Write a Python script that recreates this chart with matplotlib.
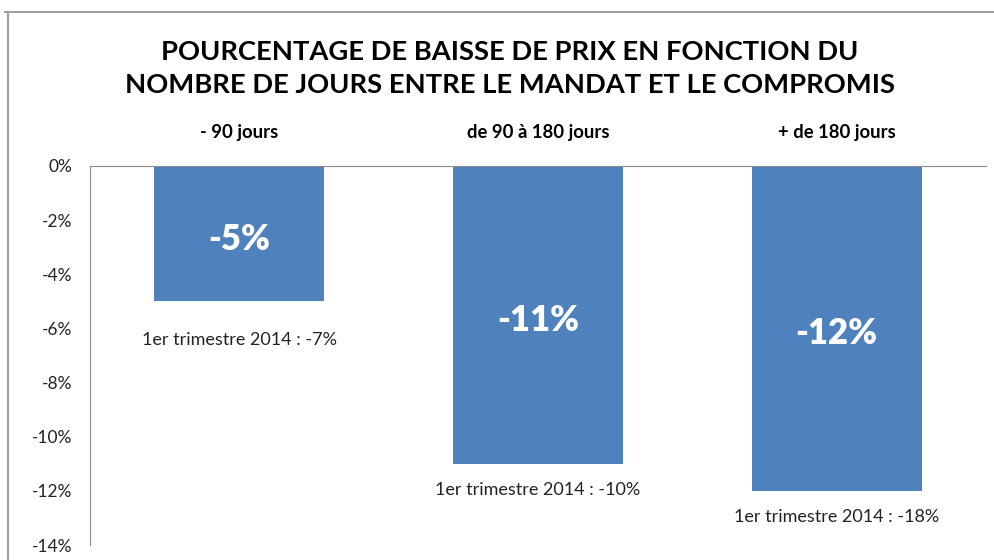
import matplotlib.pyplot as plt
from matplotlib.lines import Line2D
from matplotlib.ticker import FuncFormatter

categories = ["- 90 jours", "de 90 à 180 jours", "+ de 180 jours"]
values = [-5, -11, -12]
bar_labels = ["-5%", "-11%", "-12%"]
notes = ["1er trimestre 2014 : -7%", "1er trimestre 2014 : -10%", "1er trimestre 2014 : -18%"]
yticks = [0, -2, -4, -6, -8, -10, -12, -14]

fig = plt.figure(figsize=(9.95, 5.6), dpi=100)
ax = fig.add_axes([90 / 995, 1 - 545 / 560, 896 / 995, 379 / 560])

x = list(range(len(categories)))
ax.bar(x, values, width=0.57, color="#4F81BD")
ax.set_xlim(-0.5, 2.5)
ax.set_ylim(-14, 0)

ax.set_yticks(yticks)
ax.yaxis.set_major_formatter(FuncFormatter(lambda v, p: f"{v:.0f}%"))
ax.tick_params(axis="y", length=0, pad=13, labelsize=12.5, colors="#222222")
for lab in ax.get_yticklabels():
    lab.set_family("Lato")
ax.set_xticks([])

for s in ["right", "bottom"]:
    ax.spines[s].set_visible(False)
ax.spines["left"].set_color("#8c8c8c")
ax.spines["top"].set_color("#8c8c8c")

# labels inside bars
for xi, v, lab in zip(x, values, bar_labels):
    ax.annotate(lab, xy=(xi, v / 2), xytext=(0, -4), textcoords="offset points",
                ha="center", va="center", color="white",
                fontsize=25, fontweight="heavy", family="Lato")

# notes under bars
note_offsets = [39, 26, 26]
for xi, v, note, off in zip(x, values, notes, note_offsets):
    ax.annotate(note, xy=(xi, v), xytext=(0, -off * 0.72), textcoords="offset points",
                ha="center", va="center", fontsize=13, family="Lato", color="#222222")

# category headers above the axis
for xi, cat in zip(x, categories):
    ax.annotate(cat, xy=(xi, 0), xytext=(0, 33 * 0.72), textcoords="offset points",
                ha="center", va="center", fontsize=13.3, fontweight="bold", family="Lato")

fig.text(510 / 995, 1 - 52 / 560, "POURCENTAGE DE BAISSE DE PRIX EN FONCTION DU",
         ha="center", va="center", fontsize=19.7, fontweight="bold", family="Lato")
fig.text(510 / 995, 1 - 85 / 560, "NOMBRE DE JOURS ENTRE LE MANDAT ET LE COMPROMIS",
         ha="center", va="center", fontsize=19.7, fontweight="bold", family="Lato")

# outer frame lines
fig.add_artist(Line2D([5 / 995, 1], [1 - 12 / 560] * 2, color="#a0a0a0", lw=1.5))
fig.add_artist(Line2D([8 / 995] * 2, [0, 1 - 12 / 560], color="#a0a0a0", lw=1.5))

fig.savefig("out.png", dpi=100)
